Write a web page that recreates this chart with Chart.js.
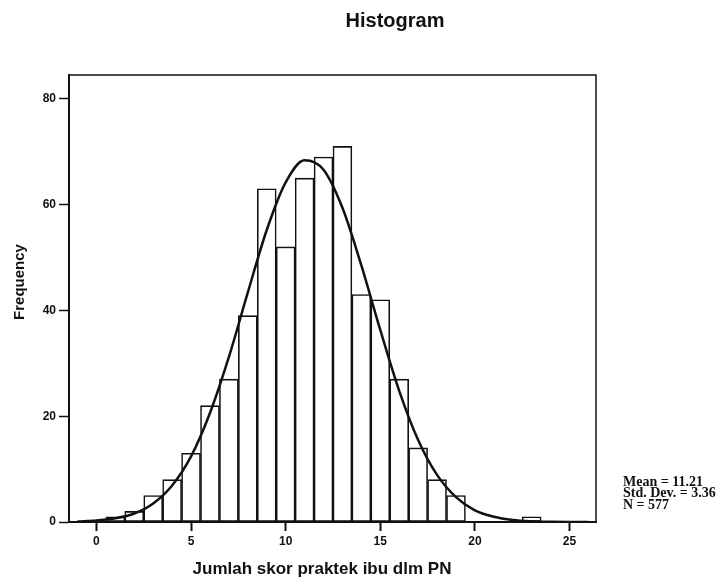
<!DOCTYPE html>
<html>
<head>
<meta charset="utf-8">
<script src="https://cdn.jsdelivr.net/npm/chart.js@4/dist/chart.umd.min.js"></script>
<style>
  html, body { margin: 0; padding: 0; background: #fff; }
  #wrap { width: 728px; height: 585px; }
</style>
</head>
<body>
<div id="wrap"><canvas id="c" width="728" height="585"></canvas></div>
<script>
// ---- data ----
const binCenters = [1, 2, 3, 4, 5, 6, 7, 8, 9, 10, 11, 12, 13, 14, 15, 16, 17, 18, 19, 20, 21, 22, 23];
const binCounts  = [1, 2, 5, 8, 13, 22, 27, 39, 63, 52, 65, 69, 71, 43, 42, 27, 14, 8, 5, null, null, null, 1];

const curveX = [-1, 0, 1, 2, 3, 4, 5, 6, 7, 8, 9, 10, 11, 12, 13, 14, 15, 16, 17, 18, 19, 20, 21, 22, 23, 24, 25, 26];
const curveY = [0.1, 0.3, 0.7, 1.6, 3.5, 6.9, 12.4, 20.6, 31.2, 43.4, 55.2, 64.2, 68.4, 66.6, 59.4, 48.5, 36.3, 24.8, 15.5, 8.9, 4.7, 2.2, 1.0, 0.4, 0.15, 0.05, 0.01, 0];

const xTickValues = [0, 5, 10, 15, 20, 25];
const yTickValues = [0, 20, 40, 60, 80];

const chartTitle = "Histogram";
const xTitle = "Jumlah skor praktek ibu dlm PN";
const yTitle = "Frequency";
const statsLines = ["Mean = 11.21", "Std. Dev. = 3.36", "N = 577"];

// ---- build ----
const barData = binCenters.map((x, i) => ({ x: x, y: binCounts[i] }));
const curveData = curveX.map((x, i) => ({ x: x, y: curveY[i] }));

const textPlugin = {
  id: 'texts',
  afterDraw(chart) {
    const ctx = chart.ctx;
    const a = chart.chartArea;
    ctx.save();
    // frame (top/right)
    ctx.strokeStyle = '#111';
    ctx.lineWidth = 1.5;
    ctx.beginPath();
    ctx.moveTo(a.left, a.top);
    ctx.lineTo(a.right, a.top);
    ctx.lineTo(a.right, a.bottom);
    ctx.stroke();

    ctx.fillStyle = '#111';
    ctx.textBaseline = 'middle';
    // main title
    ctx.font = 'bold 20px "Liberation Sans", Arial, sans-serif';
    ctx.textAlign = 'center';
    ctx.fillText(chartTitle, a.right - 201, a.top - 54);
    // x title
    ctx.font = 'bold 17px "Liberation Sans", Arial, sans-serif';
    ctx.fillText(xTitle, a.left + 253, a.bottom + 47);
    // y title
    ctx.save();
    ctx.translate(20, a.top + 207);
    ctx.rotate(-Math.PI / 2);
    ctx.font = 'bold 15px "Liberation Sans", Arial, sans-serif';
    ctx.fillText(yTitle, 0, 0);
    ctx.restore();
    // stats
    ctx.textAlign = 'left';
    ctx.font = 'bold 14px "Liberation Serif", "Times New Roman", serif';
    statsLines.forEach((t, i) => ctx.fillText(t, a.right + 27, a.bottom - 40 + i * 11.7));
    ctx.restore();
  }
};

new Chart(document.getElementById('c'), {
  data: {
    datasets: [
      {
        type: 'line',
        data: curveData,
        borderColor: '#111',
        borderWidth: 2.5,
        pointRadius: 0,
        cubicInterpolationMode: 'monotone',
        fill: false,
        order: 0
      },
      {
        type: 'bar',
        data: barData,
        backgroundColor: '#fff',
        borderColor: '#111',
        borderWidth: 1.6,
        borderSkipped: false,
        barPercentage: 1,
        categoryPercentage: 1,
        order: 1
      }
    ]
  },
  options: {
    responsive: false,
    animation: false,
    devicePixelRatio: 1,
    layout: { padding: { top: 75, right: 132, bottom: 0, left: 0 } },
    plugins: { legend: { display: false }, tooltip: { enabled: false }, title: { display: false } },
    scales: {
      x: {
        type: 'linear',
        offset: false,
        min: -1.45,
        max: 26.4,
        afterFit: (s) => { s.height = 63; },
        afterBuildTicks: (s) => { s.ticks = xTickValues.map(v => ({ value: v })); },
        grid: { offset: false, drawOnChartArea: false, drawTicks: true, tickLength: 9, tickColor: '#111', tickWidth: 2 },
        border: { display: true, color: '#111', width: 2 },
        ticks: { color: '#111', padding: 3, maxRotation: 0, font: { family: '"Liberation Sans", Arial, sans-serif', size: 12, weight: 'bold' } }
      },
      y: {
        type: 'linear',
        min: 0,
        max: 84.5,
        afterFit: (s) => { s.width = 69; },
        afterBuildTicks: (s) => { s.ticks = yTickValues.map(v => ({ value: v })); },
        grid: { drawOnChartArea: false, drawTicks: true, tickLength: 10, tickColor: '#111', tickWidth: 1.5 },
        border: { display: true, color: '#111', width: 2 },
        ticks: { color: '#111', padding: 3, font: { family: '"Liberation Sans", Arial, sans-serif', size: 12, weight: 'bold' } }
      }
    }
  },
  plugins: [textPlugin]
});
</script>
</body>
</html>
